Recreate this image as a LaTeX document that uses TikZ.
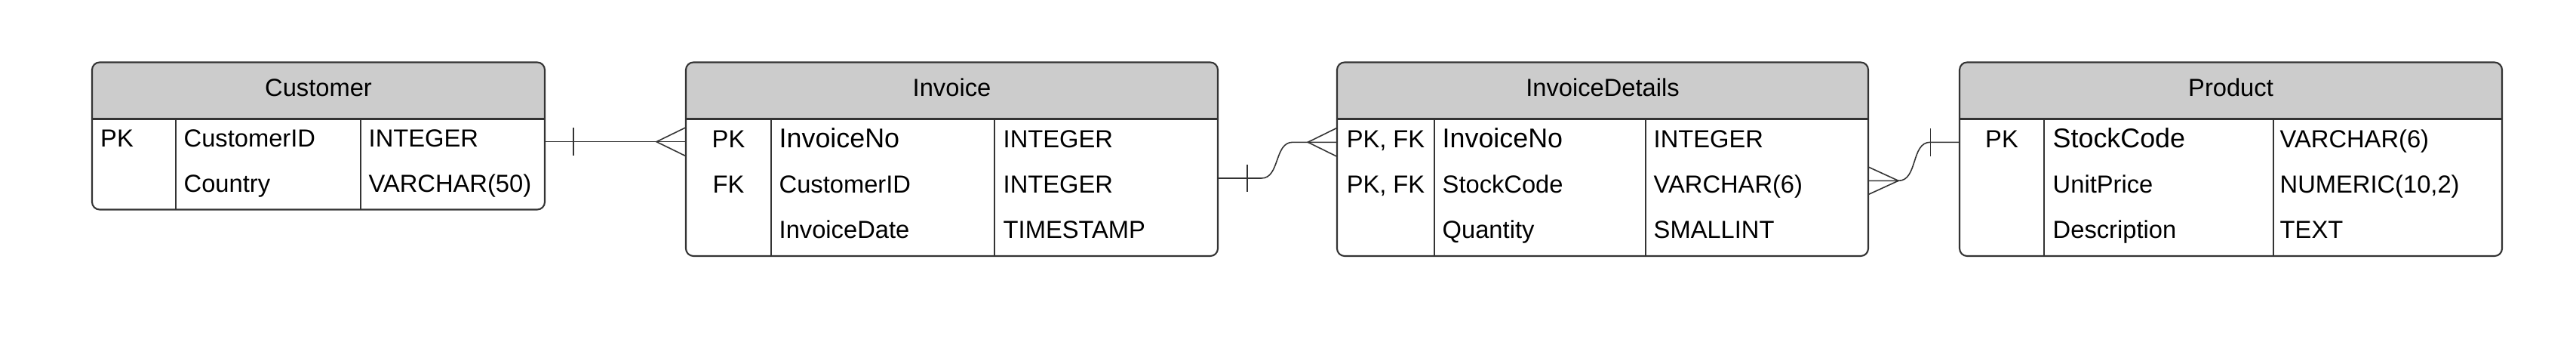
\documentclass[tikz,border=0pt]{standalone}
\usepackage{fontspec}
\setmainfont{Liberation Sans}
\usetikzlibrary{positioning,calc}
\definecolor{erline}{RGB}{51,51,51}
\definecolor{erhead}{RGB}{204,204,204}

\begin{document}
\begin{tikzpicture}[
tablebox/.style={draw=erline, line width=0.6pt, rounded corners=1mm, inner sep=0pt, outer sep=0pt, anchor=north west},
rule/.style={draw=erline, line width=0.6pt},
headtext/.style={font=\fontsize{9.3}{11}\selectfont, anchor=base, inner sep=0pt},
cell/.style={font=\fontsize{9.3}{11}\selectfont, anchor=base west, inner sep=0pt},
keycell/.style={font=\fontsize{9.3}{11}\selectfont, anchor=base, inner sep=0pt},
bigcell/.style={cell, font=\fontsize{10.2}{12}\selectfont},
conn/.style={draw=erline, line width=0.45pt}
]
\useasboundingbox (0,0) rectangle (34.14,-4.73);

% tables: header band, frame, column rules, title
\foreach \n/\ttl/\xl/\xa/\xb/\xr/\yb in {customer/Customer/1.22/2.33/4.78/7.22/2.775,
  invoice/Invoice/9.09/10.22/13.18/16.14/3.39,
  details/InvoiceDetails/17.72/19.01/21.81/24.76/3.39,
  product/Product/25.97/27.09/30.13/33.16/3.39} {
  \fill[erhead, rounded corners=1mm] (\xl,-0.825) rectangle (\xr,-1.575);
  \fill[erhead] (\xl,-1.3) rectangle (\xr,-1.575);
  \node[tablebox, minimum width={(\xr-\xl)*1cm}, minimum height={(\yb-0.825)*1cm}] (\n) at (\xl,-0.825) {};
  \draw[rule] (\xl,-1.575) -- (\xr,-1.575);
  \draw[rule] (\xa,-1.575) -- (\xa,-\yb);
  \draw[rule] (\xb,-1.575) -- (\xb,-\yb);
  \node[headtext] (\n-title) at ($(\n.north)+(0,-0.445)$) {\ttl};
}

% Customer
\node[cell] (cust-k1) at (1.325,-1.945) {PK};
\node[cell] (cust-f1) at (2.43,-1.945) {CustomerID};
\node[cell] (cust-t1) at (4.88,-1.945) {INTEGER};
\node[cell] (cust-f2) at (2.43,-2.545) {Country};
\node[cell] (cust-t2) at (4.88,-2.545) {VARCHAR(50)};

% Invoice
\node[keycell] (inv-k1) at (9.655,-1.95) {PK};
\node[keycell] (inv-k2) at (9.655,-2.55) {FK};
\node[bigcell] (inv-f1) at (10.32,-1.95) {InvoiceNo};
\node[cell] (inv-f2) at (10.32,-2.55) {CustomerID};
\node[cell] (inv-f3) at (10.32,-3.15) {InvoiceDate};
\node[cell] (inv-t1) at (13.29,-1.95) {INTEGER};
\node[cell] (inv-t2) at (13.29,-2.55) {INTEGER};
\node[cell] (inv-t3) at (13.29,-3.15) {TIMESTAMP};

% InvoiceDetails
\node[keycell] (det-k1) at (18.365,-1.95) {PK, FK};
\node[keycell] (det-k2) at (18.365,-2.55) {PK, FK};
\node[bigcell] (det-f1) at (19.11,-1.95) {InvoiceNo};
\node[cell] (det-f2) at (19.11,-2.55) {StockCode};
\node[cell] (det-f3) at (19.11,-3.15) {Quantity};
\node[cell] (det-t1) at (21.91,-1.95) {INTEGER};
\node[cell] (det-t2) at (21.91,-2.55) {VARCHAR(6)};
\node[cell] (det-t3) at (21.91,-3.15) {SMALLINT};

% Product
\node[keycell] (prod-k1) at (26.53,-1.95) {PK};
\node[bigcell] (prod-f1) at (27.2,-1.95) {StockCode};
\node[cell] (prod-f2) at (27.2,-2.55) {UnitPrice};
\node[cell] (prod-f3) at (27.2,-3.15) {Description};
\node[cell] (prod-t1) at (30.21,-1.95) {VARCHAR(6)};
\node[cell] (prod-t2) at (30.21,-2.55) {NUMERIC(10,2)};
\node[cell] (prod-t3) at (30.21,-3.15) {TEXT};

% Customer 1 -- many Invoice
\coordinate (c1a) at (customer.east |- 0,-1.877);
\coordinate (c1b) at (invoice.west |- 0,-1.877);
\draw[conn] (c1a) -- (c1b);
\draw[conn] ($(c1a)+(0.38,0.185)$) -- ++(0,-0.37);
\draw[conn] ($(c1b)+(0,0.19)$) -- ($(c1b)+(-0.39,0)$) -- ($(c1b)+(0,-0.19)$);

% Invoice 1 -- many InvoiceDetails
\coordinate (c2a) at (invoice.east |- 0,-2.36);
\coordinate (c2b) at (details.west |- 0,-1.883);
\draw[conn] (c2a) -- ++(0.577,0) to[out=0,in=180] ($(c2b)+(-0.587,0)$) -- (c2b);
\draw[conn] ($(c2a)+(0.387,0.18)$) -- ++(0,-0.36);
\draw[conn] ($(c2b)+(0,0.19)$) -- ($(c2b)+(-0.387,0)$) -- ($(c2b)+(0,-0.19)$);

% InvoiceDetails many -- 1 Product
\coordinate (c3a) at (details.east |- 0,-2.393);
\coordinate (c3b) at (product.west |- 0,-1.883);
\draw[conn] (c3a) -- ++(0.40,0) to[out=0,in=180] ($(c3b)+(-0.387,0)$) -- (c3b);
\draw[conn] ($(c3b)+(-0.387,0.183)$) -- ++(0,-0.366);
\draw[conn] ($(c3a)+(0,0.183)$) -- ($(c3a)+(0.40,0)$) -- ($(c3a)+(0,-0.183)$);

\end{tikzpicture}
\end{document}
